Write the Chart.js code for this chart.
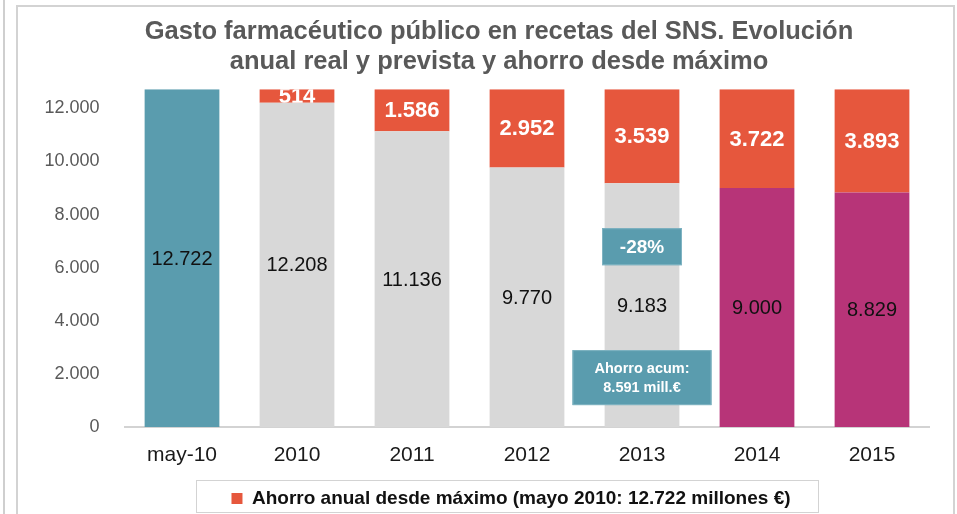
<!DOCTYPE html>
<html>
<head>
<meta charset="utf-8">
<script src="https://cdn.jsdelivr.net/npm/chart.js@4.4.1/dist/chart.umd.min.js"></script>
<style>
    html, body { margin: 0; padding: 0; background: #fff; }
    #wrap { position: relative; width: 957px; height: 514px; overflow: hidden; }
    #side-line { position: absolute; left: 3px; top: 0; width: 2px; height: 514px; background: #cfcfcf; }
    #frame { position: absolute; left: 16px; top: 5px; width: 935px; height: 600px; border: 2px solid #d3d3d3; pointer-events: none; }
    canvas { position: absolute; left: 0; top: 0; }
</style>
</head>
<body>
<div id="wrap">
    <canvas id="chart" width="957" height="514"></canvas>
    <div id="side-line"></div>
    <div id="frame"></div>
</div>
<script>
// datos del gráfico
const categories = ['may-10', '2010', '2011', '2012', '2013', '2014', '2015'];
const gastoValues = [12722, 12208, 11136, 9770, 9183, 9000, 8829];
const ahorroValues = [null, 514, 1586, 2952, 3539, 3722, 3893];
const yTickValues = [0, 2000, 4000, 6000, 8000, 10000, 12000];
const titleLines = ['Gasto farmacéutico público en recetas del SNS. Evolución', 'anual real y prevista y ahorro desde máximo'];
const legendLabel = 'Ahorro anual desde máximo (mayo 2010: 12.722 millones €)';

// anotaciones (categoría, valor del centro, texto)
const notePct = { index: 4, value: 6790, lines: ['-28%'] };
const noteAcum = { index: 4, value: 1860, lines: ['Ahorro acum:', '8.591 mill.€'] };

const TEAL = '#5a9cae';
const GREY = '#d8d8d8';
const MAGENTA = '#b73478';
const RED = '#e6573d';
const gastoColors = [TEAL, GREY, GREY, GREY, GREY, MAGENTA, MAGENTA];

const FONT = '"Liberation Sans", Arial, Helvetica, sans-serif';

function fmt(v) {
    return String(v).replace(/\B(?=(\d{3})+(?!\d))/g, '.');
}

// etiquetas dentro de las barras
const barLabels = {
    id: 'barLabels',
    afterDatasetsDraw(chart) {
        const ctx = chart.ctx;
        ctx.save();
        ctx.textAlign = 'center';
        ctx.textBaseline = 'middle';

        chart.getDatasetMeta(0).data.forEach((bar, i) => {
            ctx.fillStyle = '#111';
            ctx.font = '20px ' + FONT;
            ctx.fillText(fmt(gastoValues[i]), bar.x, (bar.y + bar.base) / 2 + 1);
        });

        chart.getDatasetMeta(1).data.forEach((bar, i) => {
            if (ahorroValues[i] == null) return;
            const top = Math.min(bar.y, bar.base);
            const h = Math.abs(bar.base - bar.y);
            ctx.save();
            ctx.beginPath();
            ctx.rect(bar.x - bar.width / 2, top, bar.width, h);
            ctx.clip();
            ctx.fillStyle = '#fff';
            ctx.font = 'bold 22px ' + FONT;
            ctx.fillText(fmt(ahorroValues[i]), bar.x, top + h / 2 + 1);
            ctx.restore();
        });
        ctx.restore();
    }
};

// cajas de texto y marco de la leyenda
const notes = {
    id: 'notes',
    afterLayout(chart) {
        // la leyenda del original está algo desplazada a la derecha y abajo
        chart.legend.left += 12;
        chart.legend.right += 12;
        chart.legend.top += 4;
        chart.legend.bottom += 4;
    },
    afterDraw(chart) {
        const ctx = chart.ctx;
        const xs = chart.scales.x;
        const ys = chart.scales.y;

        function box(note, w, h, size) {
            const cx = xs.getPixelForValue(note.index);
            const cy = ys.getPixelForValue(note.value);
            ctx.fillStyle = TEAL;
            ctx.fillRect(cx - w / 2, cy - h / 2, w, h);
            ctx.strokeStyle = '#7fb3c2';
            ctx.lineWidth = 1;
            ctx.strokeRect(cx - w / 2 + 0.5, cy - h / 2 + 0.5, w - 1, h - 1);
            ctx.fillStyle = '#fff';
            ctx.font = 'bold ' + size + 'px ' + FONT;
            ctx.textAlign = 'center';
            ctx.textBaseline = 'middle';
            const lh = size * 1.35;
            note.lines.forEach((t, k) => {
                ctx.fillText(t, cx, cy + (k - (note.lines.length - 1) / 2) * lh + 1);
            });
        }

        ctx.save();
        box(notePct, 80, 37, 19);
        box(noteAcum, 139, 55, 14.5);

        // marco de la leyenda
        const hb = chart.legend.legendHitBoxes[0];
        if (hb) {
            ctx.strokeStyle = '#d3d3d3';
            ctx.lineWidth = 1;
            ctx.strokeRect(Math.round(hb.left - 35) + 0.5, 480.5, Math.round(hb.width + 63), 32);
        }
        ctx.restore();
    }
};

new Chart(document.getElementById('chart'), {
    type: 'bar',
    data: {
        labels: categories,
        datasets: [{
            label: 'Gasto',
            data: gastoValues,
            backgroundColor: gastoColors,
            categoryPercentage: 1,
            barPercentage: 0.65
        }, {
            label: legendLabel,
            data: ahorroValues,
            backgroundColor: RED,
            categoryPercentage: 1,
            barPercentage: 0.65
        }]
    },
    options: {
        responsive: false,
        animation: false,
        layout: {
            padding: { left: 45, right: 4, top: 0, bottom: 0 }
        },
        scales: {
            x: {
                stacked: true,
                grid: { display: false },
                border: { color: '#d3d3d3', width: 2 },
                ticks: {
                    color: '#1a1a1a',
                    font: { family: FONT, size: 21 },
                    padding: 8
                },
                afterFit(scale) { scale.height = 54; }
            },
            y: {
                stacked: true,
                min: 0,
                max: 12722,
                grid: { display: false },
                border: { display: false },
                ticks: {
                    color: '#595959',
                    font: { family: FONT, size: 18 },
                    padding: 17,
                    callback: v => fmt(v)
                },
                afterBuildTicks(scale) {
                    scale.ticks = yTickValues.map(v => ({ value: v }));
                },
                afterFit(scale) { scale.width = 79.5; }
            },
            // eje vacío a la derecha para dejar el margen del gráfico
            yRight: {
                position: 'right',
                display: true,
                grid: { display: false },
                border: { display: false },
                ticks: { display: false },
                afterFit(scale) { scale.width = 23.5; }
            }
        },
        plugins: {
            title: {
                display: true,
                text: titleLines,
                color: '#595959',
                font: { family: FONT, size: 25.5, weight: 'bold', lineHeight: 1.18 },
                padding: { top: 17, bottom: 12 }
            },
            legend: {
                position: 'bottom',
                labels: {
                    filter: item => item.datasetIndex === 1,
                    color: '#111',
                    boxWidth: 11,
                    boxHeight: 11,
                    font: { family: FONT, size: 19, weight: 'bold' },
                    padding: 4
                }
            },
            tooltip: { enabled: false }
        }
    },
    plugins: [barLabels, notes]
});
</script>
</body>
</html>
